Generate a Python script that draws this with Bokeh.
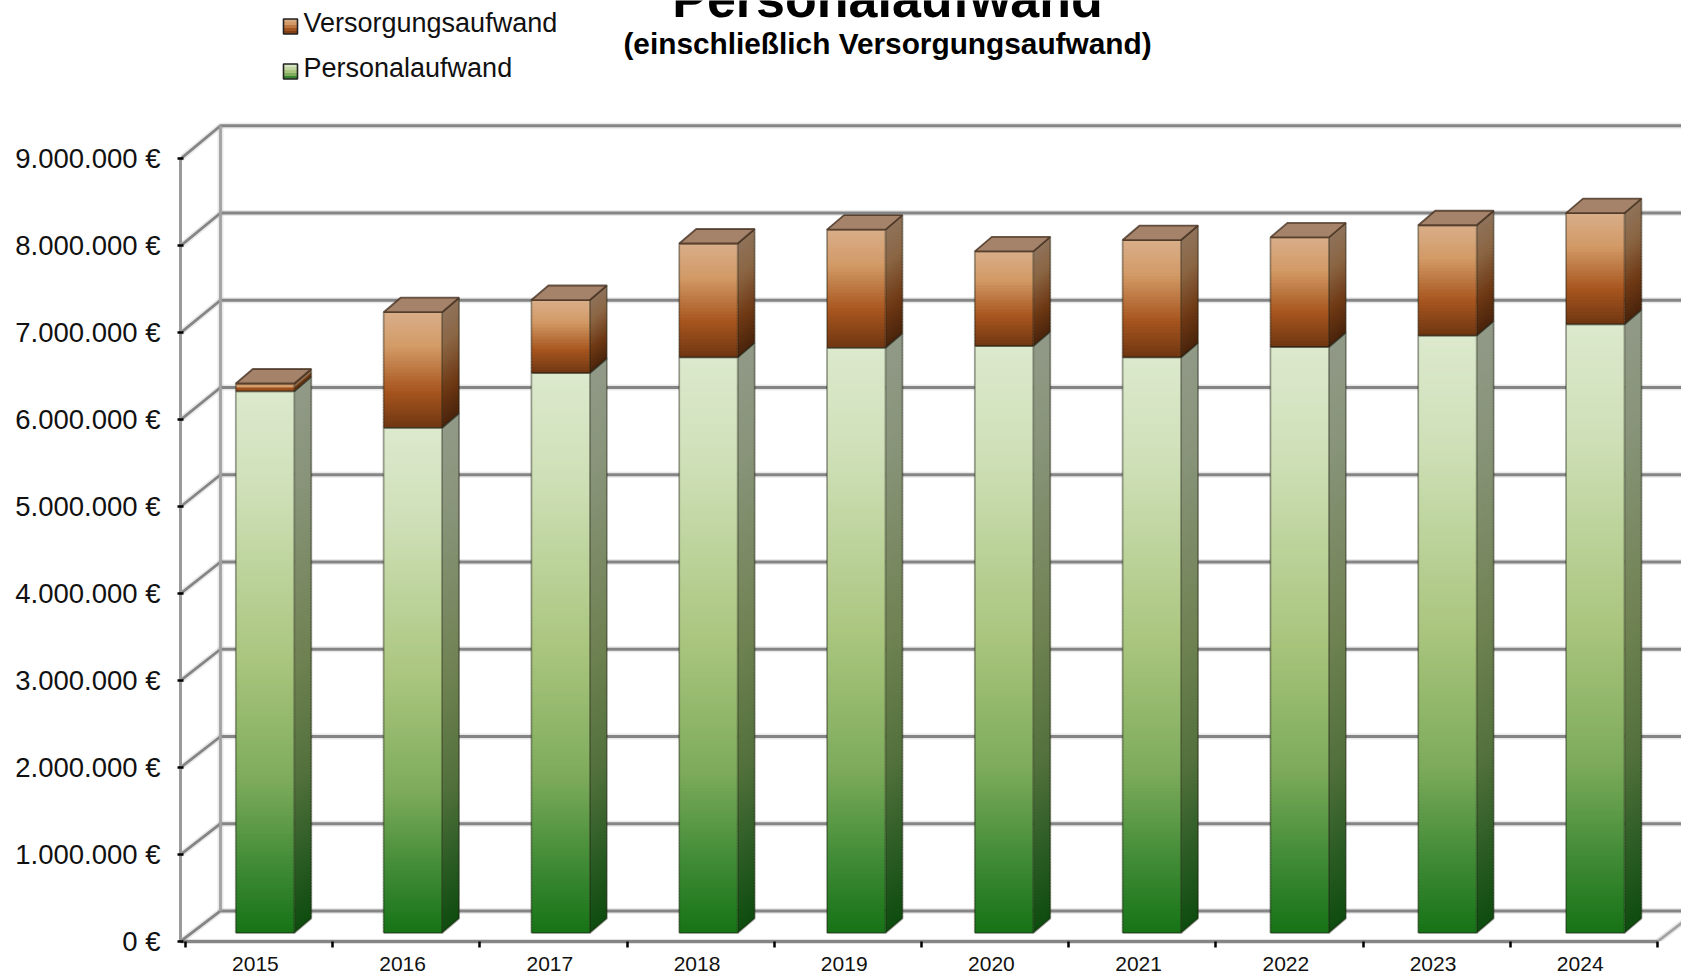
from bokeh.plotting import figure
from bokeh.embed import file_html
from bokeh.resources import INLINE
from bokeh.models import FixedTicker, Label, Range1d

# ---- data ----
years = ["2015", "2016", "2017", "2018", "2019", "2020", "2021", "2022", "2023", "2024"]
personalaufwand = [6230000, 5810000, 6440000, 6620000, 6730000, 6750000, 6620000, 6740000, 6870000, 7000000]
versorgungsaufwand = [90000, 1330000, 840000, 1310000, 1360000, 1090000, 1350000, 1260000, 1270000, 1280000]
y_ticks = [0, 1000000, 2000000, 3000000, 4000000, 5000000, 6000000, 7000000, 8000000, 9000000]
y_labels = ["0 €", "1.000.000 €", "2.000.000 €", "3.000.000 €", "4.000.000 €",
            "5.000.000 €", "6.000.000 €", "7.000.000 €", "8.000.000 €", "9.000.000 €"]
title_text = "Personalaufwand"
subtitle_text = "(einschließlich Versorgungsaufwand)"
legend_names = ["Versorgungsaufwand", "Personalaufwand"]

# ---- geometry (picture pixels -> data) ----
PX_X = 147.2            # pixels per category
PX_Y = 86.9 / 1e6       # pixels per euro
X0 = 185.0              # x of category boundary 0
Y0 = 940.5              # y of 0 €
FRAME_L, FRAME_R, FRAME_T = 180.0, 1681.0, 0.0


def dx(px):
    return px / PX_X


def dy(px):
    return px / PX_Y


def page_x(px):
    return (px - X0) / PX_X


def page_y(px):
    return (Y0 - px) / PX_Y


WALL_DX, WALL_DY, WALL_K = dx(40), dy(30.5), 1.0035
BAR_DX, BAR_DY = dx(17), dy(14.5)
BAR_LEFT, BAR_W = dx(50.3), dx(58.5)
BAR_PITCH = dx(147.8)
BAR_LIFT = dy(8.5)
LABEL_OFFSET = 0.475

GREEN_STOPS = [(0.0, "#dce9cd"), (0.18, "#cfe0b8"), (0.5, "#a9c57d"), (0.72, "#7dab5b"), (0.88, "#3f8a35"), (1.0, "#167316")]
ORANGE_STOPS = [(0.0, "#d9ae8a"), (0.3, "#d29a66"), (0.68, "#a8561f"), (1.0, "#6f3611")]
TOP_COLOR = "#a5836b"
SIDE_K = 0.66
GRID = "#858585"
FONT = "Liberation Sans"


def rgb(h):
    return [int(h[i:i + 2], 16) for i in (1, 3, 5)]


def ramp(stops, t, k=1.0):
    for (a, ca), (b, cb) in zip(stops, stops[1:]):
        if t <= b:
            f = (t - a) / (b - a)
            A, B = rgb(ca), rgb(cb)
            c = [(A[i] + (B[i] - A[i]) * f) * k for i in range(3)]
            return "#%02x%02x%02x" % tuple(int(round(v)) for v in c)
    return stops[-1][1]


p = figure(width=1681, height=973, output_backend="svg", toolbar_location=None,
           x_range=Range1d(page_x(FRAME_L), page_x(FRAME_R)),
           y_range=Range1d(0, page_y(FRAME_T)),
           min_border_left=180, min_border_right=0, min_border_top=0, min_border_bottom=32,
           background_fill_color="white", outline_line_color=None)
p.grid.visible = False

# ---- axes ----
ya = p.yaxis[0]
ya.ticker = FixedTicker(ticks=y_ticks)
ya.major_label_overrides = dict(zip(y_ticks, y_labels))
ya.bounds = (0, y_ticks[-1])
ya.major_label_text_font = FONT
ya.major_label_text_font_size = "27.5px"
ya.major_label_text_color = "#111111"
ya.major_label_standoff = 17
ya.axis_line_color = "#9a9a9a"
ya.axis_line_width = 3
ya.major_tick_line_color = "black"
ya.major_tick_line_width = 2.5
ya.major_tick_in = 3
ya.major_tick_out = 3
ya.minor_tick_line_color = None

xa = p.xaxis[0]
xa.ticker = FixedTicker(ticks=[i + LABEL_OFFSET for i in range(len(years))],
                        minor_ticks=list(range(len(years) + 1)))
xa.major_label_overrides = {i + LABEL_OFFSET: y for i, y in enumerate(years)}
xa.bounds = (page_x(FRAME_L), len(years))
xa.major_label_text_font = FONT
xa.major_label_text_font_size = "21px"
xa.major_label_text_color = "#111111"
xa.major_label_standoff = 9
xa.axis_line_color = GRID
xa.axis_line_width = 3.5
xa.major_tick_line_color = None
xa.major_tick_in = 0
xa.major_tick_out = 0
xa.minor_tick_line_color = "black"
xa.minor_tick_line_width = 2.5
xa.minor_tick_in = 0
xa.minor_tick_out = 6

# ---- walls and gridlines ----
xr = page_x(FRAME_R) + 0.05
xl = page_x(FRAME_L)
gx, gy = [], []
for v in y_ticks:
    back = v * WALL_K + WALL_DY
    gx.append([xl, xl + WALL_DX, xr])
    gy.append([v, back, back])
hx = [[xl + WALL_DX, xl + WALL_DX], [len(years), len(years) + WALL_DX]]
hy = [[WALL_DY, y_ticks[-1] * WALL_K + WALL_DY], [0, WALL_DY]]
p.multi_line(gx + hx, gy + hy, line_color="#b5b5b5", line_width=6, line_alpha=0.3)
p.multi_line(gx, gy, line_color=GRID, line_width=2.8)
p.multi_line(hx, hy, line_color="#a2a2a2", line_width=2.8)

# ---- bars ----
quad_l, quad_r, quad_t, quad_b, quad_c = [], [], [], [], []
side_x, side_y, side_c = [], [], []
edge_x, edge_y = [], []
top_x, top_y = [], []


def face(left, bottom, top, stops):
    right = left + BAR_W
    h_px = (top - bottom) * PX_Y
    n = max(2, int(h_px / 3))
    for j in range(n):
        t1 = top - (top - bottom) * j / n
        t0 = top - (top - bottom) * (j + 1) / n
        over = dy(1.5) if j < n - 1 else 0
        tt = (j + 0.5) / n
        quad_l.append(left)
        quad_r.append(right)
        quad_t.append(t1)
        quad_b.append(t0 - over)
        quad_c.append(ramp(stops, tt))
        side_x.append([right, right + BAR_DX, right + BAR_DX, right])
        side_y.append([t0 - over, t0 - over + BAR_DY, t1 + BAR_DY, t1])
        side_c.append(ramp(stops, tt, SIDE_K))
    edge_x.append([left, left, right, right, left])
    edge_y.append([bottom, top, top, bottom, bottom])
    edge_x.append([right, right + BAR_DX, right + BAR_DX, right])
    edge_y.append([bottom, bottom + BAR_DY, top + BAR_DY, top])


for i in range(len(years)):
    left = BAR_LEFT + i * BAR_PITCH
    g = personalaufwand[i]
    o = versorgungsaufwand[i]
    face(left, BAR_LIFT, BAR_LIFT + g, GREEN_STOPS)
    face(left, BAR_LIFT + g, BAR_LIFT + g + o, ORANGE_STOPS)
    t = BAR_LIFT + g + o
    top_x.append([left, left + BAR_DX, left + BAR_W + BAR_DX, left + BAR_W])
    top_y.append([t, t + BAR_DY, t + BAR_DY, t])

p.patches(side_x, side_y, fill_color=side_c, line_color=None)
p.quad(left=quad_l, right=quad_r, top=quad_t, bottom=quad_b, fill_color=quad_c, line_color=None)
p.multi_line(edge_x, edge_y, line_color="#1c1c10", line_alpha=0.4, line_width=1.8)
p.patches(top_x, top_y, fill_color=TOP_COLOR, line_color="#3f2a1a", line_alpha=0.75, line_width=1.8)

# ---- legend ----
sw_l, sw_r, sw_t, sw_b, sw_c = [], [], [], [], []
sw_line_l, sw_line_r, sw_line_t, sw_line_b = [], [], [], []
for name, stops, top_px, text_y in zip(legend_names, [ORANGE_STOPS, GREEN_STOPS], [18.5, 63.5], [22.5, 67.5]):
    for j in range(5):
        sw_l.append(page_x(283))
        sw_r.append(page_x(297))
        sw_t.append(page_y(top_px + j * 3))
        sw_b.append(page_y(top_px + (j + 1) * 3))
        sw_c.append(ramp(stops, (j + 0.5) / 5))
    sw_line_l.append(page_x(283))
    sw_line_r.append(page_x(297))
    sw_line_t.append(page_y(top_px))
    sw_line_b.append(page_y(top_px + 15))
    p.add_layout(Label(x=page_x(303), y=page_y(text_y), text=name, text_font=FONT, text_font_size="27px",
                       text_color="#111111", text_baseline="middle", text_align="left"))
p.quad(left=sw_l, right=sw_r, top=sw_t, bottom=sw_b, fill_color=sw_c, line_color=None)
p.quad(left=sw_line_l, right=sw_line_r, top=sw_line_t, bottom=sw_line_b, fill_color=None,
       line_color="#222222", line_width=1.6)

# ---- titles ----
p.add_layout(Label(x=page_x(887), y=page_y(-1.5), text=title_text, text_font=FONT, text_font_size="52px",
                   text_font_style="bold", text_color="black", text_baseline="middle", text_align="center"))
p.add_layout(Label(x=page_x(887), y=page_y(42.5), text=subtitle_text, text_font=FONT, text_font_size="29.8px",
                   text_font_style="bold", text_color="black", text_baseline="middle", text_align="center"))

open("out.html", "w").write(file_html(p, INLINE))
